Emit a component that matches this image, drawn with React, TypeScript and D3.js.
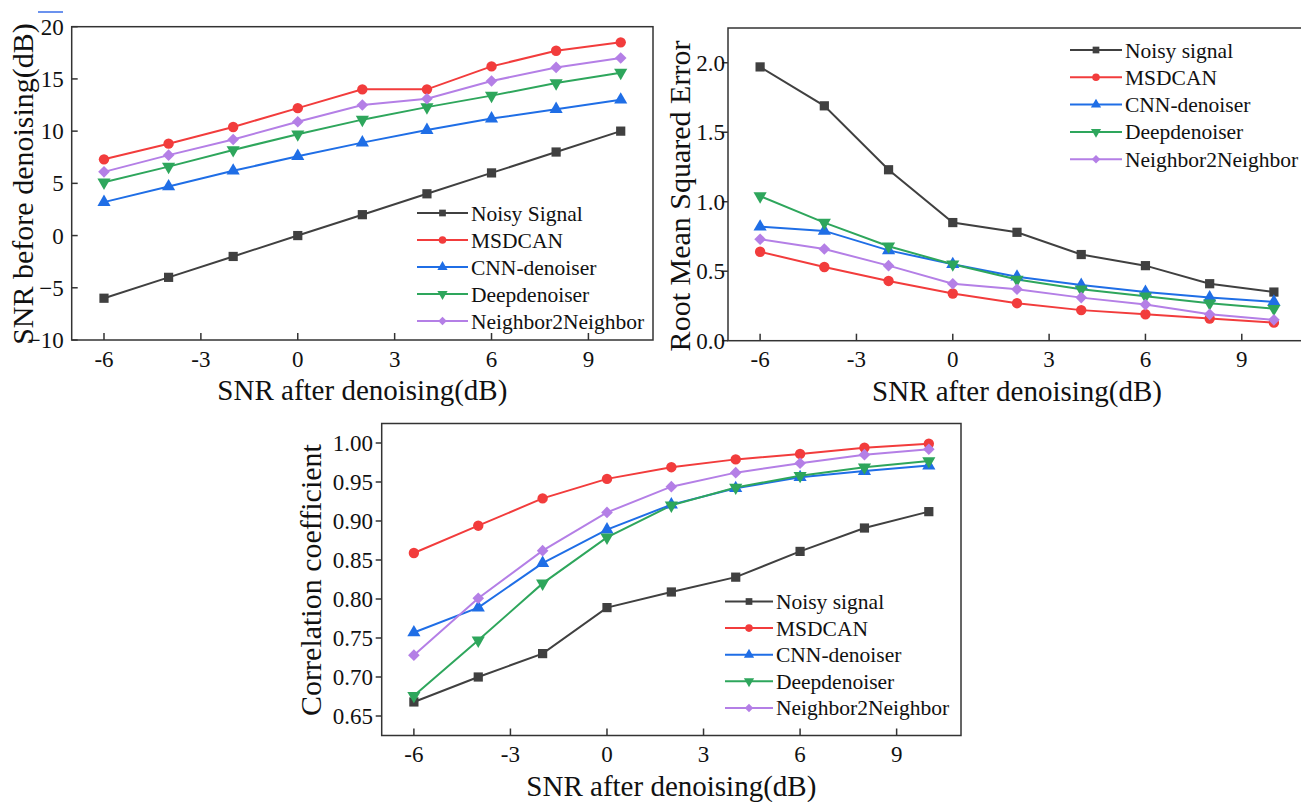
import * as d3 from "d3";
import React, { useEffect, useRef } from "react";

// x values shared by all three panels
const snrAfter = [-6, -4, -2, 0, 2, 4, 6, 8, 10];
const xTicks = [-6, -3, 0, 3, 6, 9];

// panel 1: SNR before denoising
const snrNoisy = [-6, -4, -2, 0, 2, 4, 6, 8, 10];
const snrMSDCAN = [7.3, 8.8, 10.4, 12.2, 14.0, 14.0, 16.2, 17.7, 18.5];
const snrCNN = [3.2, 4.7, 6.2, 7.6, 8.9, 10.1, 11.2, 12.1, 13.0];
const snrDeep = [5.1, 6.6, 8.2, 9.7, 11.1, 12.3, 13.4, 14.6, 15.6];
const snrN2N = [6.1, 7.7, 9.2, 10.9, 12.5, 13.1, 14.8, 16.1, 17.0];
const snrYTicks = [-10, -5, 0, 5, 10, 15, 20];

// panel 2: RMSE
const rmseNoisy = [1.97, 1.69, 1.23, 0.85, 0.78, 0.62, 0.54, 0.41, 0.35];
const rmseMSDCAN = [0.64, 0.53, 0.43, 0.34, 0.27, 0.22, 0.19, 0.16, 0.13];
const rmseCNN = [0.82, 0.79, 0.65, 0.55, 0.46, 0.4, 0.35, 0.31, 0.28];
const rmseDeep = [1.04, 0.85, 0.68, 0.55, 0.44, 0.37, 0.32, 0.27, 0.23];
const rmseN2N = [0.73, 0.66, 0.54, 0.41, 0.37, 0.31, 0.26, 0.19, 0.15];
const rmseYTicks = [0, 0.5, 1.0, 1.5, 2.0];

// panel 3: correlation coefficient
const ccNoisy = [0.668, 0.7, 0.73, 0.789, 0.809, 0.828, 0.861, 0.891, 0.912];
const ccMSDCAN = [0.859, 0.894, 0.929, 0.954, 0.969, 0.979, 0.986, 0.994, 0.999];
const ccCNN = [0.757, 0.789, 0.846, 0.889, 0.921, 0.942, 0.956, 0.964, 0.971];
const ccDeep = [0.676, 0.747, 0.82, 0.879, 0.92, 0.943, 0.958, 0.969, 0.977];
const ccN2N = [0.728, 0.801, 0.862, 0.911, 0.944, 0.962, 0.974, 0.985, 0.992];
const ccYTicks = [0.65, 0.7, 0.75, 0.8, 0.85, 0.9, 0.95, 1.0];

const methodNames = ["MSDCAN", "CNN-denoiser", "Deepdenoiser", "Neighbor2Neighbor"];

const colors = ["#404040", "#f23c3c", "#1f6ee6", "#2ea65c", "#b47fe6"];
const markers = ["square", "circle", "up", "down", "diamond"];

function markerPath(kind, size) {
  if (kind === "square") return d3.symbol().type(d3.symbolSquare).size(size)();
  if (kind === "circle") return d3.symbol().type(d3.symbolCircle).size(size)();
  if (kind === "up" || kind === "down") return d3.symbol().type(d3.symbolTriangle).size(size)();
  return d3.symbol().type(d3.symbolSquare).size(size * 0.8)();
}
function markerRot(kind) {
  if (kind === "down") return " rotate(180)";
  if (kind === "diamond") return " rotate(45)";
  return "";
}

function drawPanel(svg, cfg) {
  const x = d3.scaleLinear().domain([-7, 11]).range([cfg.left, cfg.right]);
  const y = d3.scaleLinear().domain(cfg.yDomain).range([cfg.bottom, cfg.top]);
  const g = svg.append("g");

  // frame
  g.append("rect")
    .attr("x", cfg.left).attr("y", cfg.top)
    .attr("width", cfg.right - cfg.left).attr("height", cfg.bottom - cfg.top)
    .attr("fill", "none").attr("stroke", "#333").attr("stroke-width", 1.5);

  // x ticks (inward)
  xTicks.forEach(t => {
    g.append("line")
      .attr("x1", x(t)).attr("x2", x(t))
      .attr("y1", cfg.bottom).attr("y2", cfg.bottom - 7)
      .attr("stroke", "#333").attr("stroke-width", 1.5);
    g.append("text")
      .attr("x", x(t)).attr("y", cfg.bottom + 26.5)
      .attr("text-anchor", "middle")
      .attr("font-size", 23).attr("fill", "#111")
      .text(t);
  });

  // y ticks
  cfg.yTicks.forEach(t => {
    const dir = cfg.yTickIn ? 1 : -1;
    g.append("line")
      .attr("x1", cfg.left).attr("x2", cfg.left + dir * 6)
      .attr("y1", y(t)).attr("y2", y(t))
      .attr("stroke", "#333").attr("stroke-width", 1.5);
    g.append("text")
      .attr("x", cfg.left - cfg.yLabelGap).attr("y", y(t))
      .attr("dy", "0.35em")
      .attr("text-anchor", "end")
      .attr("font-size", 23).attr("fill", "#111")
      .text(cfg.yFormat(t));
  });

  // titles
  g.append("text")
    .attr("x", (cfg.left + cfg.right) / 2).attr("y", cfg.bottom + 60)
    .attr("text-anchor", "middle")
    .attr("font-size", 29).attr("fill", "#111")
    .text("SNR after denoising(dB)");
  g.append("text")
    .attr("transform", `translate(${cfg.yTitleX},${cfg.yTitleY}) rotate(-90)`)
    .attr("text-anchor", "middle")
    .attr("font-size", 30).attr("fill", "#111")
    .text(cfg.yTitle);

  // series
  const line = d3.line().x((d, i) => x(snrAfter[i])).y(d => y(d));
  cfg.series.forEach((vals, k) => {
    g.append("path")
      .datum(vals)
      .attr("d", line)
      .attr("fill", "none").attr("stroke", colors[k]).attr("stroke-width", 2);
  });
  cfg.series.forEach((vals, k) => {
    const size = markers[k] === "up" || markers[k] === "down" ? 75 : 85;
    g.selectAll(null)
      .data(vals)
      .enter()
      .append("path")
      .attr("d", markerPath(markers[k], size))
      .attr("transform", (d, i) => `translate(${x(snrAfter[i])},${y(d)})${markerRot(markers[k])}`)
      .attr("fill", colors[k]);
  });

  // legend
  cfg.labels.forEach((lab, k) => {
    const ly = cfg.legY + k * cfg.legDy;
    g.append("line")
      .attr("x1", cfg.legX0).attr("x2", cfg.legX1)
      .attr("y1", ly).attr("y2", ly)
      .attr("stroke", colors[k]).attr("stroke-width", 2);
    g.append("path")
      .attr("d", markerPath(markers[k], 45))
      .attr("transform", `translate(${(cfg.legX0 + cfg.legX1) / 2},${ly})${markerRot(markers[k])}`)
      .attr("fill", colors[k]);
    g.append("text")
      .attr("x", cfg.legX1 + 3).attr("y", ly)
      .attr("dy", "0.35em")
      .attr("font-size", 21.5).attr("fill", "#111")
      .text(lab);
  });
}

export default function App() {
  const ref = useRef(null);

  useEffect(() => {
    const svg = d3.select(ref.current);
    svg.selectAll("*").remove();

    // small stray mark at the top-left of the original figure
    svg.append("line")
      .attr("x1", 38).attr("x2", 63).attr("y1", 12).attr("y2", 12)
      .attr("stroke", "#3a6ee8").attr("stroke-width", 1.5);

    drawPanel(svg, {
      left: 71.7, right: 653, top: 26.7, bottom: 340,
      yDomain: [-10, 20], yTicks: snrYTicks, yFormat: d3.format("d"),
      yTickIn: true, yLabelGap: 8,
      yTitle: "SNR before denoising(dB)", yTitleX: 33, yTitleY: 184,
      series: [snrNoisy, snrMSDCAN, snrCNN, snrDeep, snrN2N],
      labels: ["Noisy Signal", ...methodNames],
      legX0: 417, legX1: 468, legY: 213, legDy: 27,
    });

    drawPanel(svg, {
      left: 728, right: 1306, top: 28, bottom: 340.7,
      yDomain: [0, 2.25], yTicks: rmseYTicks, yFormat: d3.format(".1f"),
      yTickIn: false, yLabelGap: 3,
      yTitle: "Root Mean Squared Error", yTitleX: 690, yTitleY: 196,
      series: [rmseNoisy, rmseMSDCAN, rmseCNN, rmseDeep, rmseN2N],
      labels: ["Noisy signal", ...methodNames],
      legX0: 1070, legX1: 1122, legY: 50, legDy: 27.3,
    });

    drawPanel(svg, {
      left: 381.7, right: 961, top: 423.5, bottom: 735.5,
      yDomain: [0.625, 1.025], yTicks: ccYTicks, yFormat: d3.format(".2f"),
      yTickIn: false, yLabelGap: 8.7,
      yTitle: "Correlation coefficient", yTitleX: 320.7, yTitleY: 580,
      series: [ccNoisy, ccMSDCAN, ccCNN, ccDeep, ccN2N],
      labels: ["Noisy signal", ...methodNames],
      legX0: 725, legX1: 773, legY: 601.5, legDy: 26.6,
    });
  }, []);

  return (
    <svg
      ref={ref}
      width={1301}
      height={802}
      style={{
        position: "absolute",
        left: 0,
        top: 0,
        background: "#fff",
        fontFamily: '"Liberation Serif", "Times New Roman", Times, serif',
      }}
    />
  );
}
